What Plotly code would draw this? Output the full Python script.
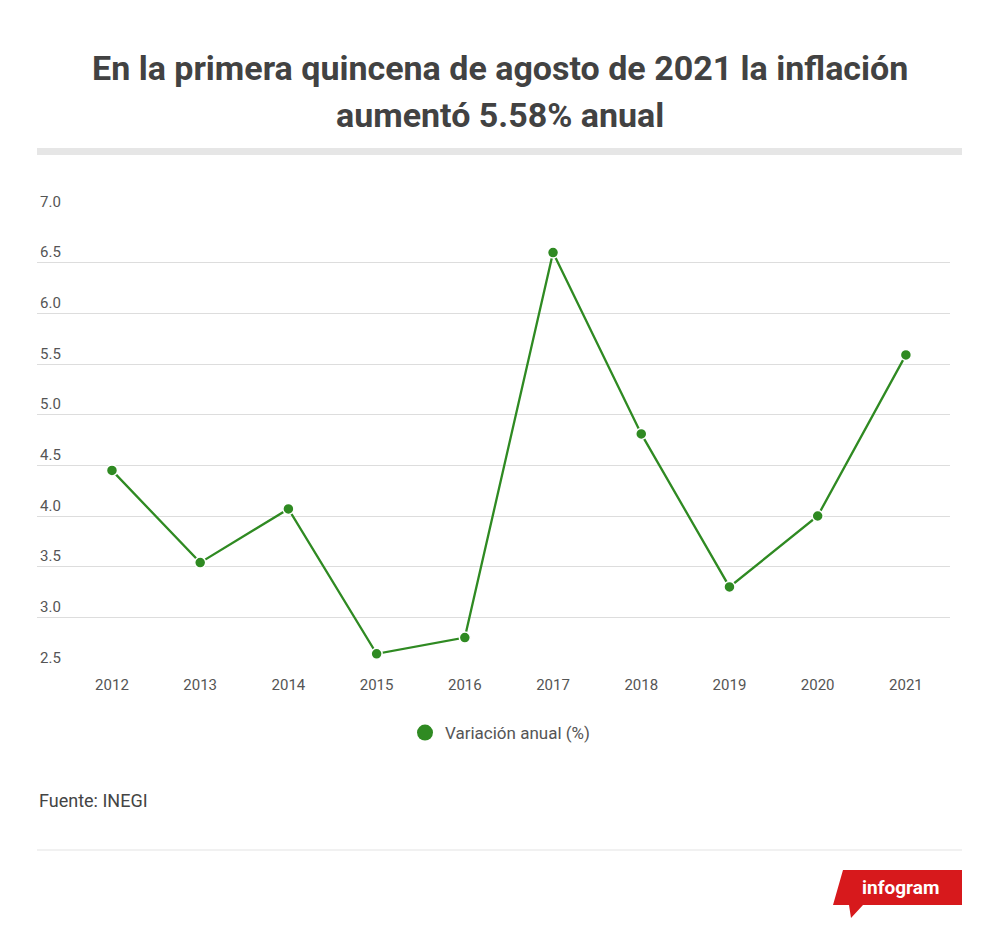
import plotly.graph_objects as go

# Data
years = ["2012", "2013", "2014", "2015", "2016", "2017", "2018", "2019", "2020", "2021"]
inflation = [4.45, 3.54, 4.07, 2.64, 2.80, 6.60, 4.81, 3.30, 4.00, 5.59]
y_ticks = [2.5, 3.0, 3.5, 4.0, 4.5, 5.0, 5.5, 6.0, 6.5, 7.0]

series_name = "Variación anual (%)"
green = "#2f8a22"
text_gray = "#555555"

# page body has an 8px margin, so the figure is shrunk / shifted to fit
OFF = 8
W, H = 1000 - OFF, 940 - OFF
L, R, T, B = 29, 50, 204, 272


# helpers: screen pixel position -> paper coords
def px(x):
    return (x - OFF - L) / (W - L - R)


def py(y):
    return (H - B - (y - OFF)) / (H - T - B)


fig = go.Figure()

fig.add_trace(go.Scatter(
    x=years,
    y=inflation,
    mode="lines+markers",
    line=dict(color=green, width=2.3),
    marker=dict(color=green, size=11, line=dict(color="white", width=1.5)),
    showlegend=False,
))

# legend entry (big dot only)
fig.add_trace(go.Scatter(
    x=[None], y=[None],
    mode="markers",
    name=series_name,
    marker=dict(color=green, size=16),
))

logo = "M {} {} L {} {} L {} {} L {} {} L {} {} L {} {} L {} {} Z".format(
    px(843), py(870), px(962), py(870), px(962), py(905),
    px(863), py(905), px(851), py(918), px(849), py(905), px(833), py(905))

fig.update_layout(
    width=W, height=H,
    margin=dict(l=L, r=R, t=T, b=B),
    paper_bgcolor="white",
    plot_bgcolor="white",
    font=dict(family="Roboto", color=text_gray),
    xaxis=dict(
        type="category",
        range=[-0.85, 9.5],
        showgrid=False,
        zeroline=False,
        showline=False,
        ticks="",
        ticklabelstandoff=6,
        tickfont=dict(size=15, color=text_gray),
    ),
    yaxis=dict(
        range=[2.5, 7.0],
        tickvals=y_ticks,
        tickformat=".1f",
        ticklabelposition="inside top",
        ticklabeloverflow="allow",
        gridcolor="#dddddd",
        gridwidth=1,
        zeroline=False,
        showline=False,
        ticks="",
        tickfont=dict(size=15, color=text_gray),
    ),
    legend=dict(
        orientation="h",
        xref="paper", yref="paper",
        x=px(500), xanchor="center",
        y=py(733), yanchor="middle",
        font=dict(size=17, color=text_gray),
    ),
    shapes=[
        dict(type="rect", xref="paper", yref="paper",
             x0=px(37), x1=px(962), y0=py(148), y1=py(155),
             fillcolor="#e6e6e6", line=dict(width=0)),
        dict(type="line", xref="paper", yref="paper",
             x0=px(37), x1=px(962), y0=py(850), y1=py(850),
             line=dict(color="#e3e3e3", width=1)),
        dict(type="path", xref="paper", yref="paper", path=logo,
             fillcolor="#d7191c", line=dict(width=0)),
    ],
    annotations=[
        dict(text="<b>En la primera quincena de agosto de 2021 la inflación</b>",
             xref="paper", yref="paper", x=px(500), y=py(68),
             xanchor="center", yanchor="middle", showarrow=False,
             font=dict(size=34, color="#424242")),
        dict(text="<b>aumentó 5.58% anual</b>",
             xref="paper", yref="paper", x=px(500), y=py(115),
             xanchor="center", yanchor="middle", showarrow=False,
             font=dict(size=34, color="#424242")),
        dict(text="Fuente: INEGI",
             xref="paper", yref="paper", x=px(37), y=py(800),
             xanchor="left", yanchor="middle", showarrow=False,
             font=dict(size=18, color="#444444")),
        dict(text="<b>infogram</b>",
             xref="paper", yref="paper", x=px(900), y=py(887),
             xanchor="center", yanchor="middle", showarrow=False,
             font=dict(size=19, color="white")),
    ],
)

fig.write_html("out.html")
